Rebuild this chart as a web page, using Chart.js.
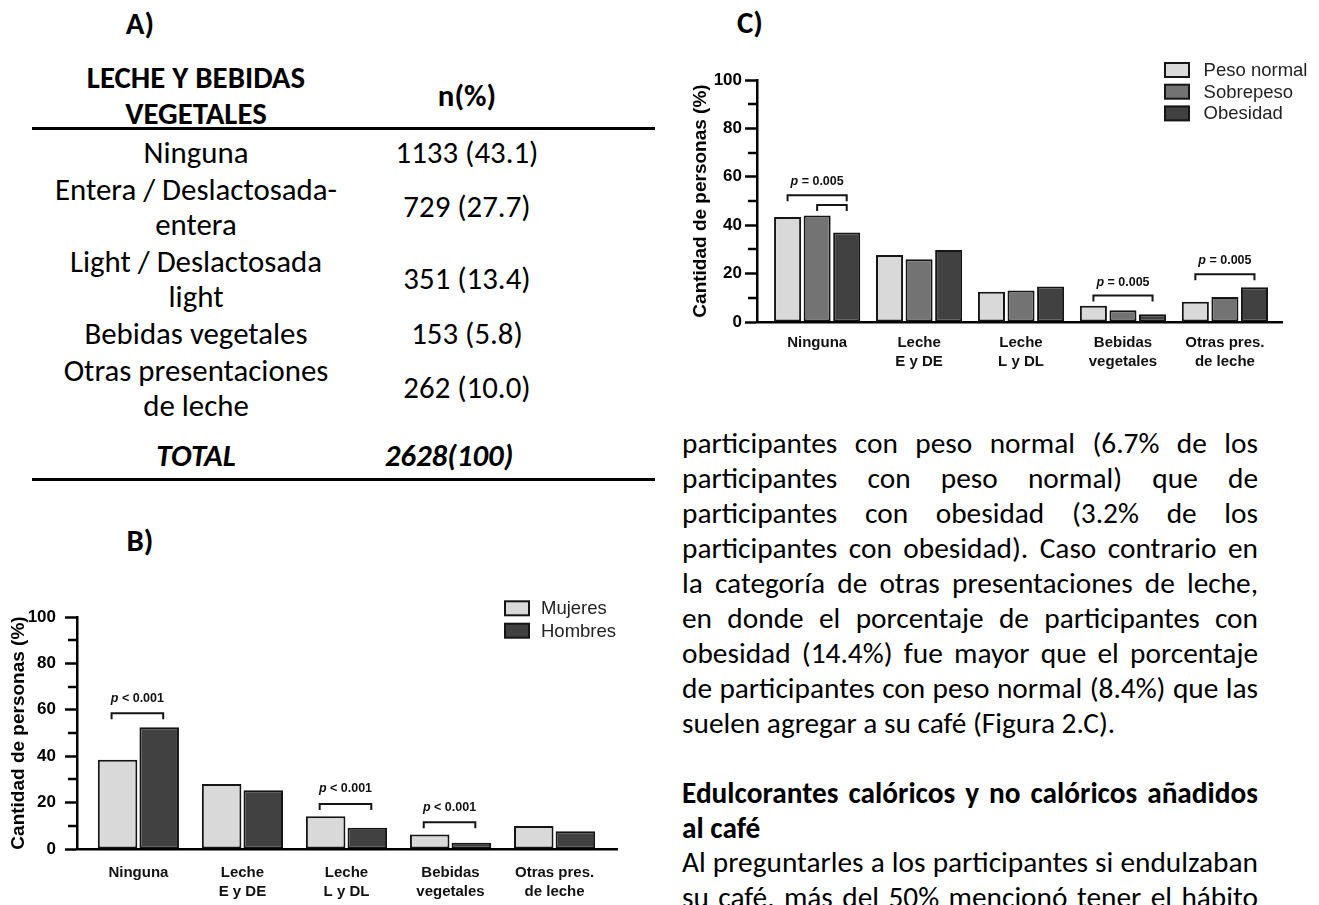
<!DOCTYPE html>
<html lang="es">
<head>
<meta charset="utf-8">
<title>Leche y bebidas vegetales añadidas al café</title>
<script src="https://cdn.jsdelivr.net/npm/chart.js@4.4.1/dist/chart.umd.min.js"></script>
<style>
  html, body { margin: 0; padding: 0; background: #fff; }
  body {
    width: 1319px; height: 905px; overflow: hidden; position: relative;
    font-family: Carlito, Calibri, Lato, "Open Sans", sans-serif; color: #000;
    --fs: 28px; --fp: 27px;
  }
  .t { position: absolute; height: 35px; line-height: 35px; white-space: nowrap; font-size: var(--fs); }
  .c { transform: translateX(-50%); text-align: center; }
  .b { font-weight: 700; }
  .bi { font-weight: 700; font-style: italic; }
  .rule { position: absolute; left: 32px; width: 623px; height: 2.5px; background: #000; }
  .ln {
    position: absolute; left: 682px; width: 576px; height: 35px; line-height: 35px;
    font-size: var(--fp); white-space: nowrap; text-align: left;
  }
  .ln.j { text-align: justify; text-align-last: justify; }
  .panel { position: absolute; }
</style>
</head>
<body>

<div id="page"></div>

<canvas id="chartB" class="panel" width="660" height="345" style="left:0;top:560px;width:660px;height:345px"></canvas>
<canvas id="chartC" class="panel" width="639" height="345" style="left:680px;top:40px;width:639px;height:345px"></canvas>

<script>
// ---- Data ------------------------------------------------------------
// Table A: milk / plant drinks added to coffee
const tableHeader = [['LECHE Y BEBIDAS', 'VEGETALES'], ['n(%)']];
const tableRows = [['Ninguna'], ['Entera / Deslactosada-', 'entera'], ['Light / Deslactosada', 'light'], ['Bebidas vegetales'], ['Otras presentaciones', 'de leche']];
const tableCounts = [1133, 729, 351, 153, 262];
const tablePercents = ['43.1', '27.7', '13.4', '5.8', '10.0'];
const tableTotal = ['TOTAL', '2628(100)'];

// Charts B and C share the categories
const categories = [['Ninguna'], ['Leche', 'E y DE'], ['Leche', 'L y DL'], ['Bebidas', 'vegetales'], ['Otras pres.', 'de leche']];
const yTicks = [0, 20, 40, 60, 80, 100];
const yMinorTicks = [10, 30, 50, 70, 90];
const yTitle = 'Cantidad de personas (%)';

// Chart B: by sex
const sexSeries = ['Mujeres', 'Hombres'];
const mujeres = [38.5, 28.0, 14.1, 6.2, 9.9];
const hombres = [52.5, 25.3, 9.2, 2.7, 7.6];
const sexTests = [
  { group: 0, from: 0, to: 1, at: 58.5, label: '< 0.001' },
  { group: 2, from: 0, to: 1, at: 19.4, label: '< 0.001' },
  { group: 3, from: 0, to: 1, at: 11.5, label: '< 0.001' }
];

// Chart C: by body-weight status
const weightSeries = ['Peso normal', 'Sobrepeso', 'Obesidad'];
const pesoNormal = [43.4, 27.7, 12.5, 6.7, 8.4];
const sobrepeso = [44.0, 25.9, 13.0, 4.9, 10.3];
const obesidad = [37.0, 29.8, 14.7, 3.2, 14.4];
const weightTests = [
  { group: 0, from: 0, to: 2, at: 52.4, label: '= 0.005' },
  { group: 0, from: 1, to: 2, at: 48.3, label: null },
  { group: 3, from: 0, to: 2, at: 10.9, label: '= 0.005' },
  { group: 4, from: 0, to: 2, at: 19.7, label: '= 0.005' }
];

// Text column
const paragraph = [
  'participantes con peso normal (6.7% de los',
  'participantes con peso normal) que de',
  'participantes con obesidad (3.2% de los',
  'participantes con obesidad). Caso contrario en',
  'la categoría de otras presentaciones de leche,',
  'en donde el porcentaje de participantes con',
  'obesidad (14.4%) fue mayor que el porcentaje',
  'de participantes con peso normal (8.4%) que las',
  'suelen agregar a su café (Figura 2.C).'
];
const heading = ['Edulcorantes calóricos y no calóricos añadidos', 'al café'];
const paragraph2 = [
  'Al preguntarles a los participantes si endulzaban',
  'su café, más del 50% mencionó tener el hábito'
];

// ---- Page text -------------------------------------------------------
const page = document.getElementById('page');
const COL_W = 576;

// font sizes: the table keeps its column widths, the text column keeps its lines
(function fitFonts() {
  const probe = document.createElement('canvas').getContext('2d');
  const fam = getComputedStyle(document.body).fontFamily;
  probe.font = '100px ' + fam;
  const wTable = probe.measureText('Entera / Deslactosada-').width;
  const fs = Math.max(22, Math.min(32, 282 / wTable * 100));
  let fp = 40;
  paragraph.concat(paragraph2).forEach(s => {
    fp = Math.min(fp, COL_W / probe.measureText(s).width * 100);
  });
  probe.font = 'bold 100px ' + fam;
  fp = Math.min(fp, COL_W / probe.measureText(heading[0]).width * 100);
  fp = Math.max(20, fp * 0.995);
  document.body.style.setProperty('--fs', fs.toFixed(2) + 'px');
  document.body.style.setProperty('--fp', fp.toFixed(2) + 'px');
})();

function text(str, cx, cy, cls) {
  const d = document.createElement('div');
  d.className = 't c ' + (cls || '');
  d.textContent = str;
  d.style.left = cx + 'px';
  d.style.top = (cy - 17.5) + 'px';
  page.appendChild(d);
}
function rule(y) {
  const d = document.createElement('div');
  d.className = 'rule';
  d.style.top = (y - 1.25) + 'px';
  page.appendChild(d);
}
function line(str, cy, justify, bold) {
  const d = document.createElement('div');
  d.className = 'ln' + (justify ? ' j' : '') + (bold ? ' b' : '');
  d.textContent = str;
  d.style.top = (cy - 17.5) + 'px';
  page.appendChild(d);
}

text('A)', 140, 23, 'b');
text('B)', 140, 540, 'b');
text('C)', 750, 22, 'b');

const colL = 196, colR = 467, lh = 35;
text(tableHeader[0][0], colL, 77, 'b');
text(tableHeader[0][1], colL, 113, 'b');
text(tableHeader[1][0], colR, 95, 'b');
rule(128.5);

let rowTop = 152;
tableRows.forEach((labelLines, i) => {
  labelLines.forEach((s, k) => text(s, colL, rowTop + k * lh));
  const mid = rowTop + (labelLines.length - 1) * lh / 2;
  text(tableCounts[i] + ' (' + tablePercents[i] + ')', colR, mid);
  rowTop += labelLines.length * lh + 2;
});
text(tableTotal[0], colL, 455, 'bi');
text(tableTotal[1], 449, 455, 'bi');
rule(479.5);

paragraph.forEach((s, i) => line(s, 443 + i * lh, i < paragraph.length - 1, false));
line(heading[0], 793, true, true);
line(heading[1], 828, false, true);
paragraph2.forEach((s, i) => line(s, 862 + i * lh, true, false));

// ---- Charts ----------------------------------------------------------
Chart.defaults.font.family = "'Liberation Sans', Arial, Helvetica, sans-serif";
Chart.defaults.color = '#000';

const INK = '#151515';
const AXIS_W = 2.5;

// legend drawn as a stacked list in the upper right of the plot
function boxLegend(o) {
  return {
    id: 'boxLegend',
    afterDraw(chart) {
      const { ctx, chartArea } = chart;
      ctx.save();
      ctx.font = '18.5px ' + Chart.defaults.font.family;
      ctx.textBaseline = 'middle';
      chart.data.datasets.forEach((ds, i) => {
        const x = chartArea.right - o.dx;
        const cy = o.top + i * o.row;
        ctx.fillStyle = ds.backgroundColor;
        ctx.fillRect(x, cy - o.boxH / 2, o.boxW, o.boxH);
        ctx.lineWidth = 2;
        ctx.strokeStyle = INK;
        ctx.strokeRect(x, cy - o.boxH / 2, o.boxW, o.boxH);
        ctx.fillStyle = '#222';
        ctx.fillText(ds.label, x + o.textDx, cy + 1);
      });
      ctx.restore();
    }
  };
}

// minor ticks between the labelled ones
const minorTicks = {
  id: 'minorTicks',
  afterDraw(chart) {
    const { ctx, chartArea, scales } = chart;
    ctx.save();
    ctx.strokeStyle = '#000';
    ctx.lineWidth = AXIS_W;
    yMinorTicks.forEach(v => {
      const y = Math.round(scales.y.getPixelForValue(v));
      ctx.beginPath();
      ctx.moveTo(chartArea.left, y);
      ctx.lineTo(chartArea.left - 9, y);
      ctx.stroke();
    });
    ctx.restore();
  }
};

// significance brackets with their p-values
function significance(tests, o) {
  return {
    id: 'significance',
    afterDatasetsDraw(chart) {
      const { ctx, scales } = chart;
      ctx.save();
      ctx.strokeStyle = INK;
      ctx.lineWidth = 2;
      ctx.fillStyle = '#111';
      ctx.textBaseline = 'middle';
      tests.forEach(t => {
        const a = chart.getDatasetMeta(t.from).data[t.group];
        const b = chart.getDatasetMeta(t.to).data[t.group];
        const x1 = a.x - o.padL, x2 = b.x + o.padR;
        const y = scales.y.getPixelForValue(t.at);
        ctx.beginPath();
        ctx.moveTo(x1, y + o.leg);
        ctx.lineTo(x1, y);
        ctx.lineTo(x2, y);
        ctx.lineTo(x2, y + o.leg);
        ctx.stroke();
        if (t.label) {
          const fam = Chart.defaults.font.family;
          const pFont = 'italic bold 12.5px ' + fam;
          const rFont = 'bold 12.5px ' + fam;
          const rest = ' ' + t.label;
          ctx.font = pFont; const wp = ctx.measureText('p').width;
          ctx.font = rFont; const wr = ctx.measureText(rest).width;
          const sx = (x1 + x2) / 2 - (wp + wr) / 2;
          const ty = y - o.textGap;
          ctx.font = pFont; ctx.fillText('p', sx, ty);
          ctx.font = rFont; ctx.fillText(rest, sx + wp, ty);
        }
      });
      ctx.restore();
    }
  };
}

function groupedBars(canvasId, cfg) {
  const datasets = cfg.series.map((name, k) => ({
    label: name,
    data: cfg.values[k].map((v, i) => ({ x: i, y: v })),
    backgroundColor: cfg.colors[k],
    borderColor: INK,
    borderWidth: 2,
    borderSkipped: false,
    categoryPercentage: cfg.catPct,
    barPercentage: cfg.barPct
  }));
  return new Chart(document.getElementById(canvasId), {
    type: 'bar',
    data: { datasets },
    options: {
      responsive: false,
      animation: false,
      events: [],
      layout: { padding: cfg.padding },
      plugins: { legend: { display: false }, tooltip: { enabled: false } },
      scales: {
        x: {
          type: 'linear',
          offset: false,
          min: cfg.xMin,
          max: cfg.xMax,
          afterBuildTicks: s => { s.ticks = categories.map((_, i) => ({ value: i })); },
          afterFit: s => { s.height = cfg.xHeight; },
          border: { display: true, color: '#000', width: AXIS_W },
          grid: { display: true, drawOnChartArea: false, drawTicks: false },
          ticks: {
            autoSkip: false, maxRotation: 0, minRotation: 0,
            padding: cfg.xPad,
            color: '#111',
            font: { size: 15, weight: 'bold', lineHeight: 1.27 },
            callback: v => categories[v]
          }
        },
        y: {
          min: 0,
          max: 100,
          afterBuildTicks: s => { s.ticks = yTicks.map(v => ({ value: v })); },
          afterFit: s => { s.width = cfg.yWidth; },
          border: { display: true, color: '#000', width: AXIS_W },
          grid: { display: true, drawOnChartArea: false, drawTicks: true, tickLength: 12, tickWidth: AXIS_W, tickColor: '#000' },
          ticks: { padding: cfg.yPad, color: '#000', font: { size: 17, weight: 'bold' } },
          title: {
            display: true, text: yTitle, color: '#000',
            font: { size: 19, weight: 'bold', lineHeight: 1.2 },
            padding: { top: cfg.titlePad, bottom: 0 }
          }
        }
      }
    },
    plugins: [boxLegend(cfg.legend), minorTicks, significance(cfg.tests, cfg.bracket)]
  });
}

groupedBars('chartB', {
  series: sexSeries,
  values: [mujeres, hombres],
  colors: ['#d9d9d9', '#414141'],
  catPct: 0.8, barPct: 0.95,
  xMin: -0.59, xMax: 4.6,
  padding: { left: 0, right: 43, top: 57, bottom: 0 },
  yWidth: 77, xHeight: 56, xPad: 14, yPad: 9, titlePad: 7.5,
  legend: { dx: 112, top: 48.3, row: 22.4, boxW: 24, boxH: 14, textDx: 36 },
  tests: sexTests,
  bracket: { padL: 6, padR: 4, leg: 6, textGap: 15 }
});

groupedBars('chartC', {
  series: weightSeries,
  values: [pesoNormal, sobrepeso, obesidad],
  colors: ['#d9d9d9', '#737373', '#414141'],
  catPct: 0.87, barPct: 0.915,
  xMin: -0.59, xMax: 4.56,
  padding: { left: 0, right: 37, top: 40, bottom: 0 },
  yWidth: 77, xHeight: 63, xPad: 11, yPad: 3, titlePad: 9.5,
  legend: { dx: 117, top: 30, row: 21.7, boxW: 24, boxH: 14, textDx: 38.6 },
  tests: weightTests,
  bracket: { padL: 0, padR: 0, leg: 6, textGap: 13.5 }
});
</script>
</body>
</html>
